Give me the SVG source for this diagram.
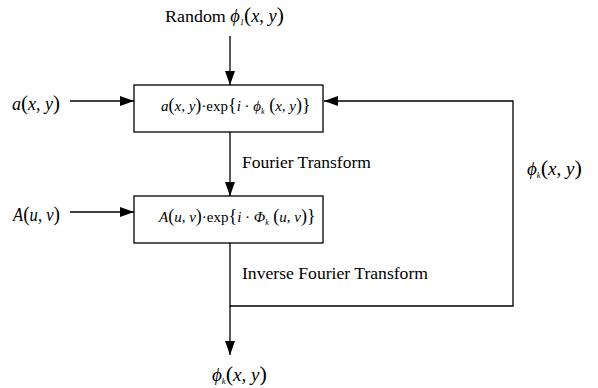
<svg xmlns="http://www.w3.org/2000/svg" width="598" height="388" viewBox="0 0 598 388">
<style>
text{font-family:"Liberation Serif","Times New Roman",serif;fill:#000}
.t{font-size:17.5px}
.m{font-size:18px}
.b{font-size:15px}
.i{font-style:italic}
.p{font-size:21px}
.bp{font-size:18px}
.s{font-size:8px;font-style:italic}
.box{fill:#fff;stroke:#000;stroke-width:1.3}
.ln{fill:none;stroke:#000;stroke-width:1.3}
</style>
<defs>
<marker id="ah" viewBox="0 0 14 10" refX="14" refY="5" markerWidth="14" markerHeight="10" markerUnits="userSpaceOnUse" orient="auto">
<path d="M0,0 L14,5 L0,10 Z" fill="#000"/>
</marker>
</defs>
<g id="connectors">
<line class="ln" x1="230" y1="36" x2="230" y2="85" marker-end="url(#ah)"/>
<line class="ln" x1="70" y1="101" x2="134" y2="101" marker-end="url(#ah)"/>
<line class="ln" x1="230" y1="132" x2="230" y2="196" marker-end="url(#ah)"/>
<line class="ln" x1="70" y1="212" x2="134" y2="212" marker-end="url(#ah)"/>
<polyline class="ln" points="230,243 230,306 513,306 513,101 324,101" marker-end="url(#ah)"/>
<line class="ln" x1="230" y1="306" x2="230" y2="355" marker-end="url(#ah)"/>
<text class="t" x="242" y="168">Fourier Transform</text>
<text class="t" x="242" y="279" textLength="186" lengthAdjust="spacingAndGlyphs">Inverse Fourier Transform</text>
<text class="m" x="527" y="175" textLength="55" lengthAdjust="spacingAndGlyphs"><tspan class="i">ϕ</tspan><tspan class="s" dy="3">k</tspan><tspan class="p" dy="-3">(</tspan><tspan class="i">x</tspan>, <tspan class="i">y</tspan><tspan class="p">)</tspan></text>
</g>
<g id="input-random">
<text x="165" y="22" textLength="119" lengthAdjust="spacingAndGlyphs"><tspan class="t">Random </tspan><tspan class="m i">ϕ</tspan><tspan class="s" dy="3">1</tspan><tspan class="p" dy="-3">(</tspan><tspan class="m i">x</tspan><tspan class="m">, </tspan><tspan class="m i">y</tspan><tspan class="p">)</tspan></text>
</g>
<g id="input-a">
<text class="m" x="12" y="110" textLength="48" lengthAdjust="spacingAndGlyphs"><tspan class="i">a</tspan><tspan class="p">(</tspan><tspan class="i">x</tspan>, <tspan class="i">y</tspan><tspan class="p">)</tspan></text>
</g>
<g id="input-A">
<text class="m" x="13" y="221" textLength="47" lengthAdjust="spacingAndGlyphs"><tspan class="i">A</tspan><tspan class="p">(</tspan><tspan class="i">u</tspan>, <tspan class="i">v</tspan><tspan class="p">)</tspan></text>
</g>
<g id="box1">
<rect class="box" x="134" y="85" width="189" height="47"/>
<text class="b" x="161" y="111"><tspan class="i">a</tspan><tspan class="bp">(</tspan><tspan class="i">x</tspan>, <tspan class="i">y</tspan><tspan class="bp">)</tspan>·exp<tspan class="bp">{</tspan><tspan class="i">i</tspan> · <tspan class="i">ϕ</tspan><tspan class="s" dy="3">k</tspan><tspan class="bp" dy="-3"> (</tspan><tspan class="i">x</tspan>, <tspan class="i">y</tspan><tspan class="bp">)}</tspan></text>
</g>
<g id="box2">
<rect class="box" x="134" y="196" width="189" height="47"/>
<text class="b" x="159" y="222"><tspan class="i">A</tspan><tspan class="bp">(</tspan><tspan class="i">u</tspan>, <tspan class="i">v</tspan><tspan class="bp">)</tspan>·exp<tspan class="bp">{</tspan><tspan class="i">i</tspan> · <tspan class="i">Φ</tspan><tspan class="s" dy="3">k</tspan><tspan class="bp" dy="-3"> (</tspan><tspan class="i">u</tspan>, <tspan class="i">v</tspan><tspan class="bp">)}</tspan></text>
</g>
<g id="output">
<text class="m" x="212" y="381" textLength="55" lengthAdjust="spacingAndGlyphs"><tspan class="i">ϕ</tspan><tspan class="s" dy="3">k</tspan><tspan class="p" dy="-3">(</tspan><tspan class="i">x</tspan>, <tspan class="i">y</tspan><tspan class="p">)</tspan></text>
</g>
</svg>
